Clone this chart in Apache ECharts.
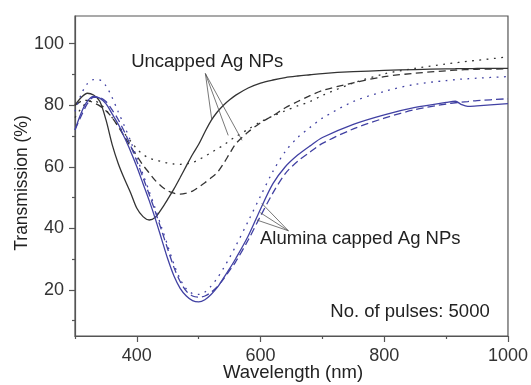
<!DOCTYPE html>
<html>
<head>
<meta charset="utf-8">
<script src="https://cdn.jsdelivr.net/npm/echarts@6/dist/echarts.min.js"></script>
<style>
html,body{margin:0;padding:0;background:#fff;}
#chart{width:531px;height:385px;}
</style>
</head>
<body>
<div id="chart"></div>
<script>
// ---- data ----
const wavelength = [300,310,320,330,340,350,360,370,380,390,400,410,420,430,440,450,460,470,480,490,500,510,520,530,540,550,560,580,600,620,640,660,680,700,750,800,850,900,915,925,935,950,1000];

const uncappedSolid = [80,82.5,83.9,83.3,81.3,75.3,67.3,61,56,51.5,46.5,43.8,42.7,43.6,46.3,49.5,52.8,56.5,60.3,64,67.3,71.3,75,77.8,80,81.8,83.3,85.6,87.2,88.2,89,89.5,89.9,90.3,90.9,91.3,91.6,91.8,91.85,91.9,91.9,91.95,92.0];
const uncappedDashed = [80,81.3,81.6,80.8,79.8,78.2,76,73,69.8,66.5,63.5,60.5,58,55.5,53.6,52.2,51.4,51.1,51.4,52.1,53.4,54.8,56.4,58.1,61,64.3,67.5,71.3,74.3,76.6,79.2,81.2,83.1,84.8,87.3,89.3,90.4,91.2,91.4,91.5,91.6,91.7,91.8];
const uncappedDotted = [76,79,81,81.5,80.5,78.5,76,73.3,70.8,68.3,65.8,64,62.8,62.2,61.7,61.2,60.9,60.8,61,61.4,62.3,63.4,64.6,65.8,67,68.5,69.8,72.2,74.6,76.5,78.2,79.8,81.2,83.2,87.2,90.2,92,93.4,93.8,94,94.3,94.6,95.7];
const aluminaSolid = [72,77.5,81.3,82.9,82.3,80.5,77.2,73.8,69.5,65,60,54.5,49,43,36.5,30,24.5,20.5,18,16.5,16.1,16.8,18.5,20.8,23.8,26.9,30.2,37.5,46.3,54.5,60,63.8,66.8,69.5,73.8,76.9,79.3,80.9,81.3,80.2,79.6,79.8,80.5];
const aluminaDashed = [72,76.5,80.5,82.6,82.5,81.2,78.5,75.3,71.3,66.8,61.8,56.5,51,45.3,39.3,33.2,27.3,22.7,19.6,18,17.6,18,19.2,21,23.5,26.3,29.2,36.2,44,51.5,57.8,61.8,64.8,67.6,72.3,75.8,78.6,80.4,80.8,81,81.2,81.5,82.1];
const aluminaDotted = [78,83.5,87,88.3,88.2,86.3,82.5,77.8,73.2,68.3,63,57.5,52,46.3,40.3,34.3,28.3,23.5,20.3,18.8,18.5,19.3,21.2,23.8,27,30.5,34.3,42.3,50.5,58.5,65,69.5,72.8,75.8,81.2,84.5,86.8,88,88.3,88.5,88.6,88.8,89.3];

const xMajorTicks = [400,600,800,1000];
const xMinorTicks = [300,500,700,900];
const yMajorTicks = [20,40,60,80,100];
const yMinorTicks = [10,30,50,70,90];

// arrows: [start, end] in data coordinates
const uncappedArrows = [
  [[510.8,90.3],[521,75.5]],
  [[510.8,90.3],[547.7,70.2]],
  [[510.8,90.3],[570,68.6]]
];
const aluminaArrows = [
  [[645,39.2],[602,48.1]],
  [[645,39.2],[599.4,45.1]],
  [[645,39.2],[594,42.7]]
];
const annotationTexts = ['Uncapped Ag NPs','Alumina capped Ag NPs','No. of pulses: 5000'];
const annotationAnchors = [[513.8,94.1],[761.2,36.5],[970.5,12.9]];
const annotationAlign = ['center','center','right'];

// ---- chart ----
const FONT = "'Liberation Sans', Arial, sans-serif";
const BLACK = '#333333';
const BLUE = '#4141a3';
const pair = arr => wavelength.map((w,i)=>[w,arr[i]]);

function arrowLines(list){
  return {
    silent:true, animation:false,
    symbol:['none','arrow'], symbolSize:[0,6],
    label:{show:false},
    lineStyle:{color:'#555',width:0.8,type:'solid'},
    emphasis:{disabled:true},
    data:list.map(a=>[{coord:a[0]},{coord:a[1]}])
  };
}

function mkSeries(name, arr, color, type, extra){
  return Object.assign({
    name:name, type:'line', data:pair(arr), showSymbol:false, smooth:0.3,
    lineStyle:{color:color,width:1.3,type:type}, itemStyle:{color:color},
    animation:false, silent:true
  }, extra||{});
}

const axisLineStyle = {color:'#555',width:1.2};
const labelStyle = {color:'#333',fontSize:18,fontFamily:FONT};

const option = {
  animation:false,
  grid:{left:75,right:20,top:16,bottom:49,show:true,borderColor:'#555',borderWidth:1.2},
  xAxis:[
    {type:'value',min:300,max:1000,interval:100,position:'bottom',
     axisLine:{show:true,onZero:false,lineStyle:axisLineStyle},
     axisTick:{show:true,inside:false,length:6,customValues:xMajorTicks,lineStyle:axisLineStyle},
     axisLabel:{show:true,customValues:xMajorTicks,margin:11,formatter:v=>String(v),...labelStyle},
     splitLine:{show:false}},
    {type:'value',min:300,max:1000,interval:100,position:'bottom',offset:0,
     axisLine:{show:false},
     axisTick:{show:true,inside:false,length:3,customValues:xMinorTicks,lineStyle:axisLineStyle},
     axisLabel:{show:false},splitLine:{show:false}}
  ],
  yAxis:[
    {type:'value',min:5,max:109,position:'left',
     axisLine:{show:true,onZero:false,lineStyle:axisLineStyle},
     axisTick:{show:true,inside:false,length:6,customValues:yMajorTicks,lineStyle:axisLineStyle},
     axisLabel:{show:true,customValues:yMajorTicks,margin:11,formatter:v=>String(v),...labelStyle},
     splitLine:{show:false}},
    {type:'value',min:5,max:109,position:'left',offset:0,
     axisLine:{show:false},
     axisTick:{show:true,inside:false,length:3,customValues:yMinorTicks,lineStyle:axisLineStyle},
     axisLabel:{show:false},splitLine:{show:false}}
  ],
  series:[
    mkSeries('Uncapped solid', uncappedSolid, BLACK, 'solid', {markLine:arrowLines(uncappedArrows)}),
    mkSeries('Uncapped dashed', uncappedDashed, BLACK, [7,4.5]),
    mkSeries('Uncapped dotted', uncappedDotted, BLACK, [1.8,5.5]),
    mkSeries('Alumina solid', aluminaSolid, BLUE, 'solid', {markLine:arrowLines(aluminaArrows)}),
    mkSeries('Alumina dashed', aluminaDashed, BLUE, [7.5,4]),
    mkSeries('Alumina dotted', aluminaDotted, BLUE, [1.8,5.5])
  ]
};

const chart = echarts.init(document.getElementById('chart'), null, {renderer:'canvas'});
chart.setOption(option);

const graphics = annotationTexts.map((t,i)=>{
  const p = chart.convertToPixel({xAxisIndex:0,yAxisIndex:0}, annotationAnchors[i]);
  return {type:'text',x:p[0],y:p[1],silent:true,
    style:{text:t,fill:'#222',font:'18.5px '+FONT,textAlign:annotationAlign[i],textVerticalAlign:'middle'}};
});
graphics.push({type:'text',x:293,y:373,silent:true,
  style:{text:'Wavelength (nm)',fill:'#222',font:'18.5px '+FONT,textAlign:'center',textVerticalAlign:'middle'}});
graphics.push({type:'text',x:22,y:183,rotation:Math.PI/2,silent:true,
  style:{text:'Transmission (%)',fill:'#222',font:'17.5px '+FONT,textAlign:'center',textVerticalAlign:'middle'}});
chart.setOption({graphic:graphics});
</script>
</body>
</html>
